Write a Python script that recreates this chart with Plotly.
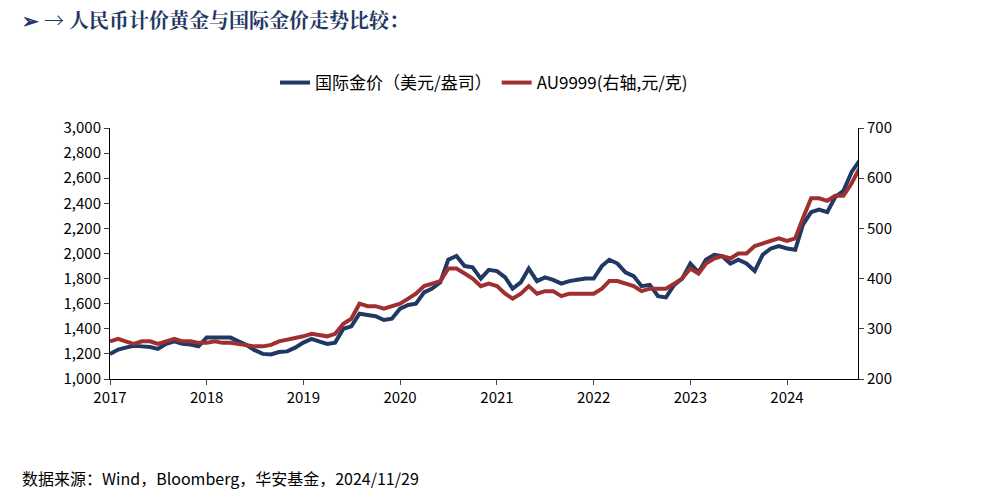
import plotly.graph_objects as go
import pandas as pd

dates = pd.date_range("2017-01-01", "2024-11-01", freq="MS")
gold = [1200,1235,1250,1265,1260,1255,1240,1280,1300,1280,1275,1260,
        1330,1330,1325,1330,1300,1270,1230,1200,1195,1215,1220,1250,
        1290,1320,1300,1280,1290,1400,1420,1520,1510,1500,1470,1480,
        1560,1590,1600,1690,1720,1770,1950,1980,1900,1890,1800,1870,
        1860,1810,1720,1770,1880,1780,1810,1790,1760,1780,1790,1800,
        1800,1900,1950,1920,1850,1820,1740,1750,1660,1650,1750,1800,
        1920,1850,1950,1990,1980,1920,1950,1920,1860,1990,2040,2060,
        2040,2030,2230,2330,2350,2330,2450,2500,2650,2740,2650]
au = [275,280,275,270,275,275,270,275,280,275,275,272,
      272,275,272,272,270,268,265,265,268,275,278,280,
      285,290,288,285,290,310,320,350,345,345,340,345,
      350,360,370,385,390,395,420,420,410,400,385,390,
      385,370,360,370,385,370,375,375,365,370,370,370,
      370,380,395,395,390,385,375,380,380,380,390,400,
      420,410,430,440,445,440,450,450,465,470,475,480,
      475,480,520,560,560,555,565,565,590,620,610]

F = "Noto Sans CJK SC"
L, R, T, B = 102, 153, 120, 133
W, H = 1003, 504
fig = go.Figure()
fig.add_trace(go.Scatter(x=dates, y=gold, name="国际金价（美元/盎司）", mode="lines",
                         line=dict(color="#1F3864", width=4)))
fig.add_trace(go.Scatter(x=dates, y=au, name="AU9999(右轴,元/克)", mode="lines", yaxis="y2",
                         line=dict(color="#A0302F", width=4)))

def px(x, y):
    return (x - 8 - L) / (W - L - R), 1 - (y - 8 - T) / (H - T - B)

tx, ty = px(20, 20)
sx, sy = px(20, 478)
lx, ly = px(0, 83)
fig.update_layout(
    width=W, height=H, plot_bgcolor="white", paper_bgcolor="white",
    margin=dict(l=L, r=R, t=T, b=B),
    font=dict(family=F, size=15, color="black"),
    legend=dict(orientation="h", x=0.5, xanchor="center", y=ly, yanchor="middle",
                font=dict(size=17)),
    xaxis=dict(range=["2017-01-01", "2024-09-25"], showline=True, linecolor="black",
               ticks="outside", tickformat="%Y", dtick="M12", tick0="2017-01-01",
               showgrid=False),
    yaxis=dict(range=[1000, 3000], dtick=200, tickformat=",", showline=True,
               linecolor="black", ticks="outside", showgrid=False),
    yaxis2=dict(range=[200, 700], dtick=100, overlaying="y", side="right", showline=True,
                linecolor="black", ticks="outside", showgrid=False),
    annotations=[
        dict(text="<b>➢ → 人民币计价黄金与国际金价走势比较：</b>", x=tx, y=ty, xref="paper", yref="paper",
             showarrow=False, xanchor="left", yanchor="middle",
             font=dict(size=20, color="#1F3864", family="Noto Serif CJK SC, " + F)),
        dict(text="数据来源：Wind，Bloomberg，华安基金，2024/11/29", x=sx, y=sy, xref="paper", yref="paper",
             showarrow=False, xanchor="left", yanchor="middle", font=dict(size=16, color="black")),
    ],
)
fig.write_html("out.html")
